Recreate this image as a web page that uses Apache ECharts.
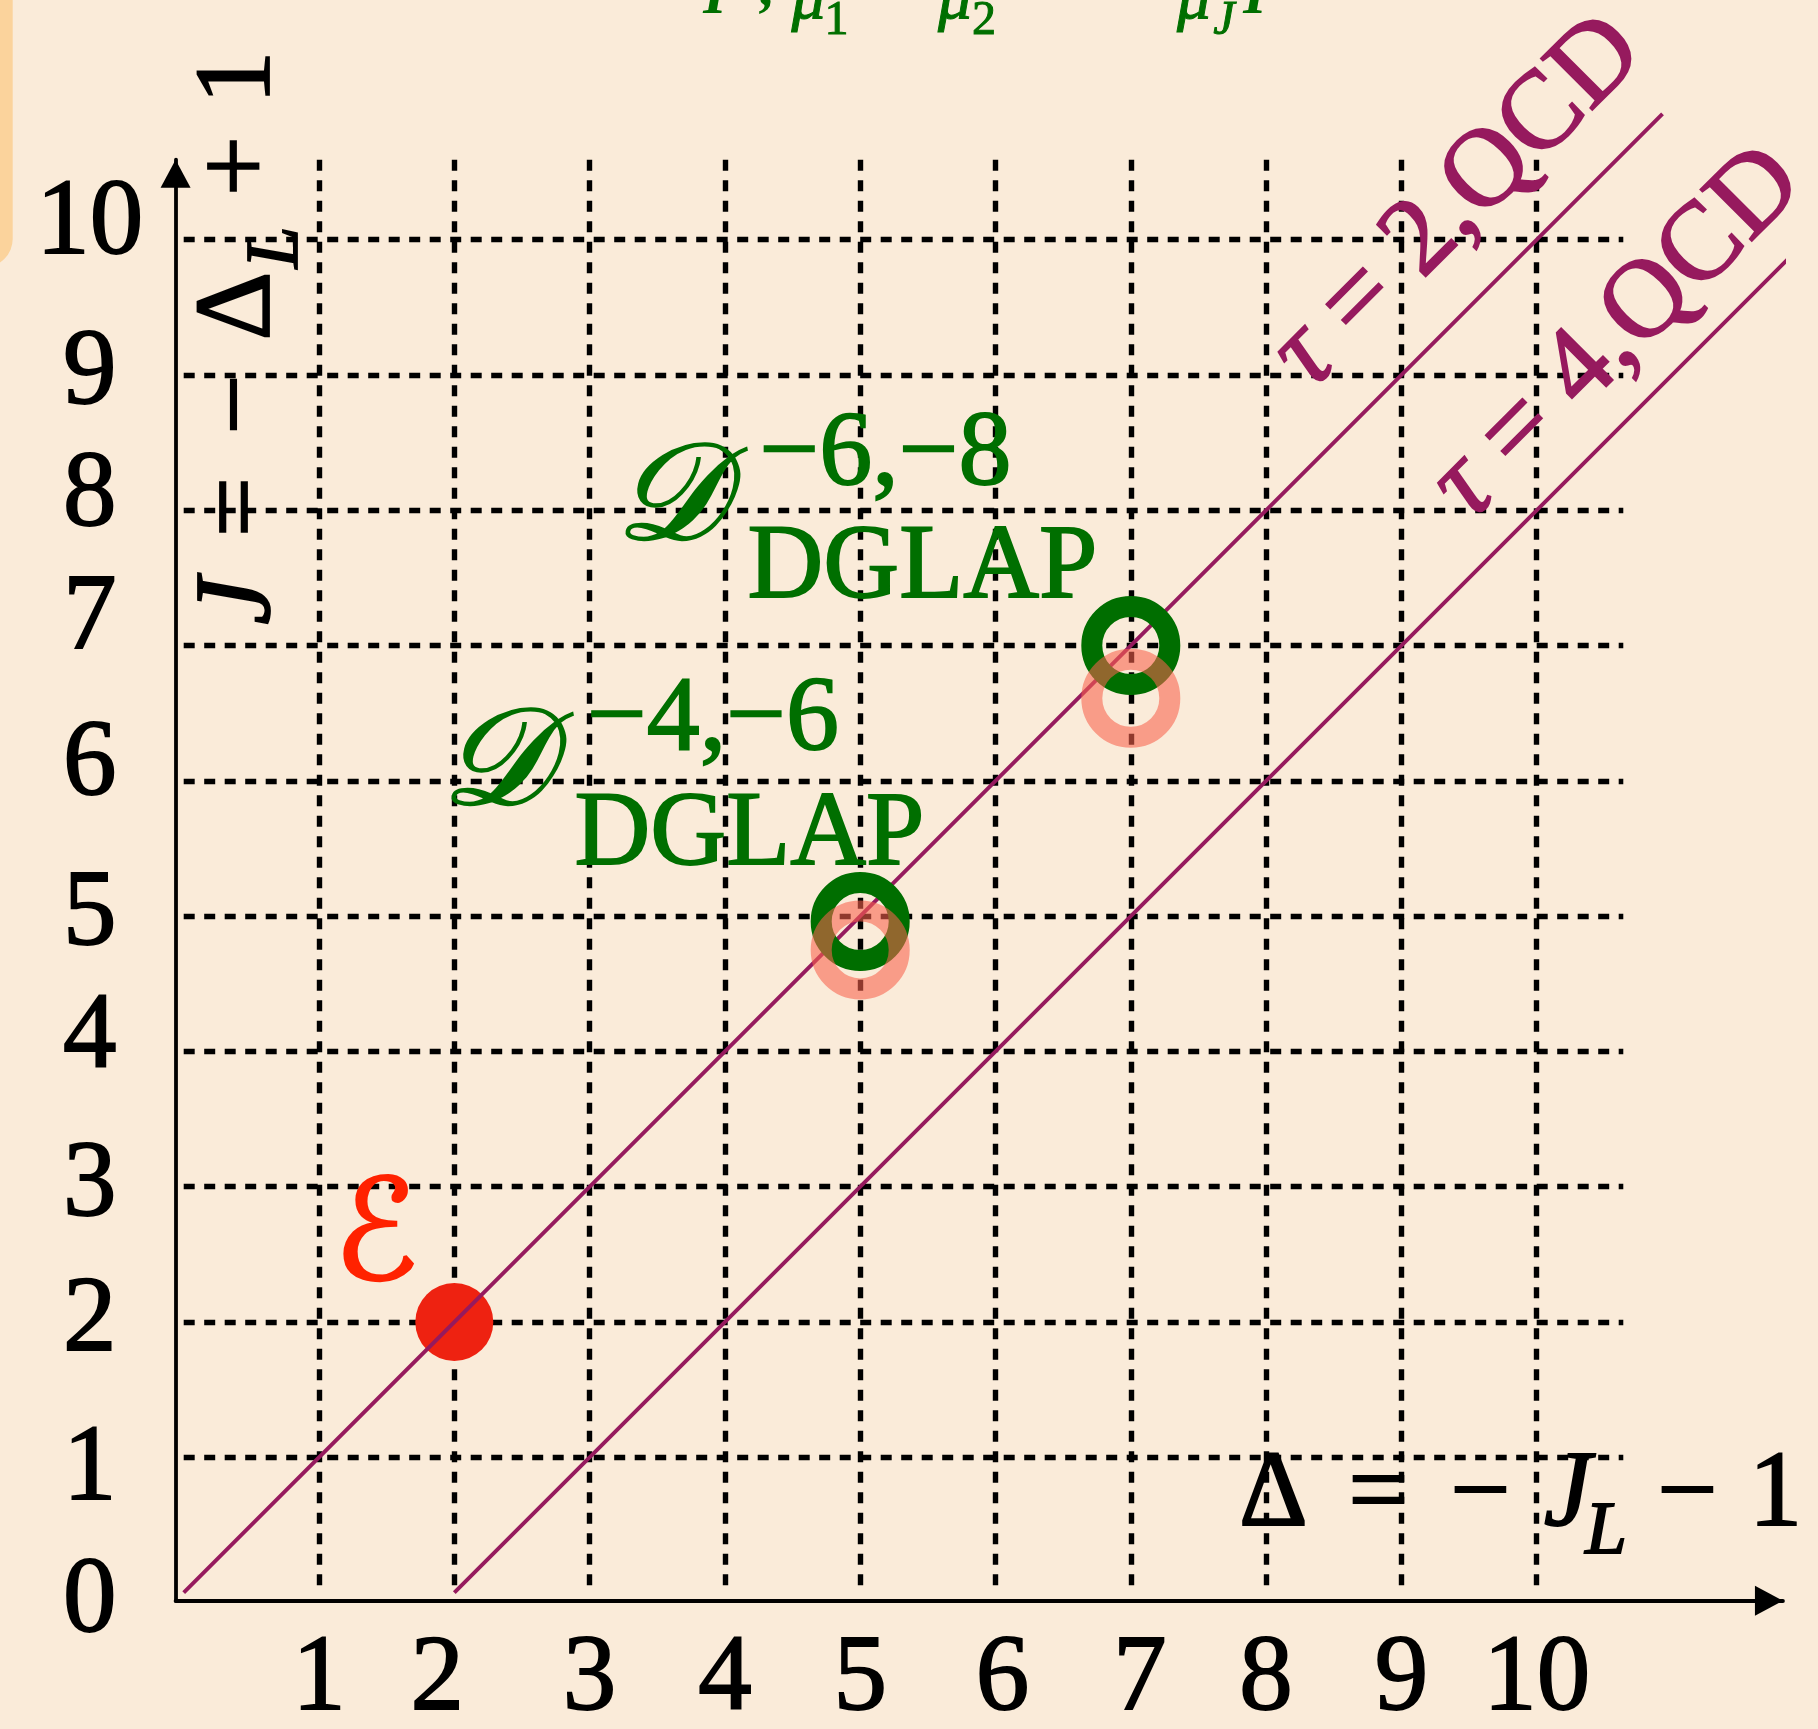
<!DOCTYPE html>
<html>
<head>
<meta charset="utf-8">
<title>Twist lines</title>
<script src="https://cdn.jsdelivr.net/npm/echarts@6.0.0/dist/echarts.min.js"></script>
<style>
  html, body { margin: 0; padding: 0; background: #faebd9; }
  #chart { width: 1818px; height: 1729px; }
</style>
</head>
<body>
<div id="chart"></div>
<script>
// tick labels
const xTickValues = [1, 2, 3, 4, 5, 6, 7, 8, 9, 10]
const yTickValues = [0, 1, 2, 3, 4, 5, 6, 7, 8, 9, 10]

// data
const tau2Line = [[0, 0], [10.93, 10.93]]
const tau4Line = [[2, 0], [12.08, 10.08]]
const ePoint = [[2, 2]]
const dglapRings = [[5, 4.96], [7, 7]]
const shiftedRings = [[5, 4.75], [7, 6.61]]

// the tick labels in the picture sit a little off their ticks (px)
const xLabelNudge = { 2: -17, 6: 7, 7: 9 }
const yLabelNudge = { 0: 10, 1: 14, 4: -12, 6: -15, 7: -26, 8: -13, 10: -15 }

// pixel geometry of the frame
const UNIT = 135.3
const X0 = 183.7
const Y0 = 1592.6
const SERIF = '"Liberation Serif", "DejaVu Serif", "DejaVu Sans", serif'
const GREEN = '#006f00'
const PURPLE = '#961a5e'
const INK = 1.8 // extra stroke so the glyphs are as heavy as in the picture

function txt(text, x, y, size, color, italic, weight) {
  return {
    type: 'text',
    x: x,
    y: y,
    z: 20,
    style: {
      text: text,
      fill: color,
      stroke: color,
      lineWidth: weight === undefined ? INK : weight,
      font: (italic ? 'italic ' : '') + size + 'px ' + SERIF,
      textAlign: 'center',
      textVerticalAlign: 'middle'
    }
  }
}

function boldStroke(text, x, y) {
  return {
    type: 'text',
    x: x,
    y: y,
    z: 20,
    style: {
      text: text,
      fill: GREEN,
      font: 'italic bold 60px ' + SERIF,
      textAlign: 'center',
      textVerticalAlign: 'middle'
    }
  }
}

function lineLabel(text, x, y) {
  return {
    type: 'text',
    x: x,
    y: y,
    rotation: Math.PI / 4,
    z: 20,
    style: {
      text: text,
      fill: PURPLE,
      stroke: PURPLE,
      lineWidth: INK,
      font: '111px ' + SERIF,
      textAlign: 'center',
      textVerticalAlign: 'middle',
      rich: { t: { fontStyle: 'italic', fontSize: 111, fontFamily: SERIF } }
    }
  }
}

const tickLabel = {
  color: '#000',
  fontFamily: SERIF,
  fontSize: 107,
  textBorderColor: '#000',
  textBorderWidth: INK
}

// rich styles that move single tick labels
function nudgeRich(nudge, vertical) {
  const rich = {}
  Object.keys(nudge).forEach((k) => {
    const d = Math.abs(nudge[k]) * 2
    rich['n' + k] = Object.assign({
      padding: vertical
        ? (nudge[k] > 0 ? [d, 0, 0, 0] : [0, 0, d, 0])
        : (nudge[k] > 0 ? [0, 0, 0, d] : [0, d, 0, 0])
    }, tickLabel)
  })
  return rich
}

function tickFormatter(values, nudge) {
  return (v) => {
    if (!values.includes(v)) return ''
    return nudge[v] !== undefined ? '{n' + v + '|' + v + '}' : String(v)
  }
}

const gridLine = {
  show: true,
  showMinLine: false,
  showMaxLine: false,
  lineStyle: { color: '#000', width: 5.4, type: [11, 9.5] }
}

const option = {
  animation: false,
  backgroundColor: '#faebd9',
  grid: [
    {
      // axes with arrows, series
      left: X0 - 0.06 * UNIT,
      top: Y0 - 10.59 * UNIT,
      width: 11.88 * UNIT,
      height: 10.65 * UNIT,
      outerBoundsMode: 'none',
      containLabel: false
    },
    {
      // dashed grid and tick labels
      left: X0,
      top: Y0 - 10.59 * UNIT,
      width: 10.64 * UNIT,
      height: 10.59 * UNIT,
      outerBoundsMode: 'none',
      containLabel: false
    }
  ],
  xAxis: [
    {
      type: 'value',
      gridIndex: 0,
      min: -0.06,
      max: 11.82,
      axisLine: {
        show: true,
        onZero: false,
        symbol: ['none', 'triangle'],
        symbolSize: [30, 28],
        symbolOffset: [0, -14],
        lineStyle: { color: '#000', width: 3.8 }
      },
      axisTick: { show: false },
      axisLabel: { show: false },
      splitLine: { show: false }
    },
    {
      type: 'value',
      gridIndex: 1,
      min: 0,
      max: 10.64,
      interval: 1,
      axisLine: { show: false },
      axisTick: { show: false },
      axisLabel: Object.assign({
        margin: 88,
        verticalAlign: 'middle',
        hideOverlap: false,
        formatter: tickFormatter(xTickValues, xLabelNudge),
        rich: nudgeRich(xLabelNudge, false)
      }, tickLabel),
      splitLine: gridLine
    }
  ],
  yAxis: [
    {
      type: 'value',
      gridIndex: 0,
      min: -0.06,
      max: 10.59,
      axisLine: {
        show: true,
        onZero: false,
        symbol: ['none', 'triangle'],
        symbolSize: [30, 28],
        symbolOffset: [0, -14],
        lineStyle: { color: '#000', width: 3.8 }
      },
      axisTick: { show: false },
      axisLabel: { show: false },
      splitLine: { show: false }
    },
    {
      type: 'value',
      gridIndex: 1,
      min: 0,
      max: 10.59,
      interval: 1,
      axisLine: { show: false },
      axisTick: { show: false },
      axisLabel: Object.assign({
        margin: 94,
        align: 'center',
        hideOverlap: false,
        formatter: tickFormatter(yTickValues, yLabelNudge),
        rich: nudgeRich(yLabelNudge, true)
      }, tickLabel),
      splitLine: gridLine
    }
  ],
  series: [
    {
      name: 'E',
      type: 'scatter',
      data: ePoint,
      symbol: 'circle',
      symbolSize: 78,
      itemStyle: { color: '#ee2211', opacity: 1 },
      z: 2
    },
    {
      name: 'tau=2',
      type: 'line',
      data: tau2Line,
      showSymbol: false,
      clip: false,
      lineStyle: { color: PURPLE, width: 3.9 },
      z: 3
    },
    {
      name: 'tau=4',
      type: 'line',
      data: tau4Line,
      showSymbol: false,
      clip: false,
      lineStyle: { color: PURPLE, width: 3.9 },
      z: 3
    },
    {
      name: 'DGLAP',
      type: 'scatter',
      data: dglapRings,
      symbol: 'circle',
      symbolSize: 78,
      itemStyle: { color: 'rgba(0,0,0,0)', borderColor: '#006e00', borderWidth: 21, opacity: 1 },
      z: 4
    },
    {
      name: 'shifted',
      type: 'scatter',
      data: shiftedRings,
      symbol: 'circle',
      symbolSize: 78,
      itemStyle: { color: 'rgba(0,0,0,0)', borderColor: 'rgba(248,99,77,0.58)', borderWidth: 21, opacity: 1 },
      z: 5
    }
  ],
  graphic: [
    // edge of the neighbouring box
    {
      type: 'rect',
      z: 1,
      shape: { x: -60, y: -60, width: 72.7, height: 327, r: 28 },
      style: { fill: '#fbd39c' }
    },
    // cut-off heading at the top
    boldStroke('I', 715, -3),
    boldStroke(',', 768, -11),
    txt('μ', 808.5, 0, 68, GREEN, true, 1),
    txt('1', 836.5, 21, 48, GREEN, false, 1),
    txt('μ', 955, 0, 68, GREEN, true, 1),
    txt('2', 984, 21, 48, GREEN, false, 1),
    txt('μ', 1194, 0, 68, GREEN, true, 1),
    txt('J', 1224, 21, 48, GREEN, true, 1),
    boldStroke('I', 1255, -3),
    // y axis title, reading upwards
    {
      type: 'group',
      x: 241,
      y: 634,
      rotation: Math.PI / 2,
      children: [
        txt('J', 33, 0, 107, '#000', true),
        txt('=', 127, 0, 107, '#000', false),
        txt('−', 229.5, 0, 107, '#000', false),
        txt('Δ', 328, 0, 107, '#000', false),
        txt('L', 386.5, 36, 75, '#000', true),
        txt('+', 468, 0, 107, '#000', false),
        txt('1', 556.5, 0, 107, '#000', false)
      ]
    },
    // x axis title
    txt('Δ', 1273.5, 1497, 107, '#000', false),
    txt('=', 1378.5, 1497, 107, '#000', false),
    txt('−', 1480.5, 1497, 107, '#000', false),
    txt('J', 1567.5, 1497, 107, '#000', true),
    txt('L', 1606, 1533, 75, '#000', true),
    txt('−', 1687.5, 1497, 107, '#000', false),
    txt('1', 1775.5, 1497, 107, '#000', false),
    // line labels
    lineLabel('{t|τ} = 2,QCD', 1458, 203),
    lineLabel('{t|τ} = 4,QCD', 1617.5, 334),
    // point labels
    txt('ℰ', 376, 1242, 140, '#ff2200', true, 2.4),
    txt('𝒟', 669, 503, 137, GREEN, true, 2.4),
    txt('−6,−8', 885.5, 456, 106, GREEN, false),
    txt('DGLAP', 922.5, 569.5, 105, GREEN, false),
    txt('𝒟', 495.5, 768, 137, GREEN, true, 2.4),
    txt('−4,−6', 713, 721.5, 106, GREEN, false),
    txt('DGLAP', 749.5, 836.5, 105, GREEN, false)
  ]
}

const chart = echarts.init(document.getElementById('chart'), null, { renderer: 'canvas' })
chart.setOption(option)
</script>
</body>
</html>
